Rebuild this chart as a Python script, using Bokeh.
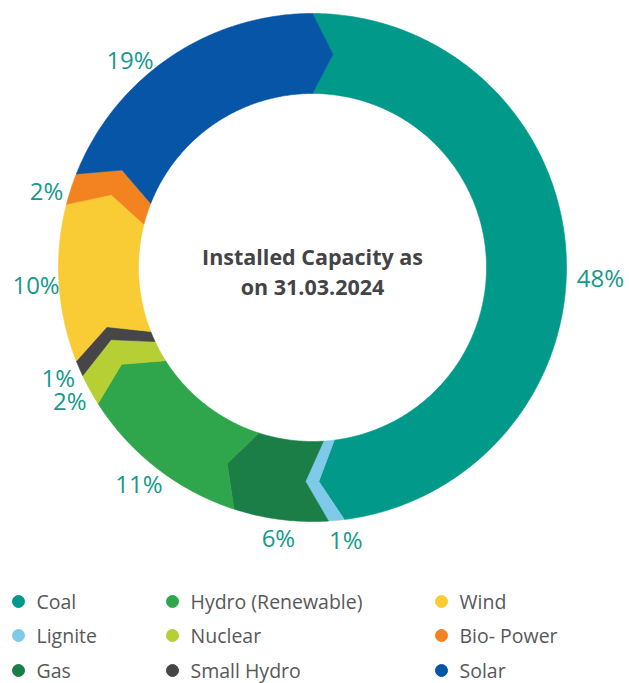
import math
from bokeh.plotting import figure
from bokeh.models import Range1d, ColumnDataSource
from bokeh.core.properties import value
from bokeh.embed import file_html
from bokeh.resources import INLINE

# ---- data ----
categories = ["Coal", "Lignite", "Gas", "Hydro (Renewable)", "Nuclear",
              "Small Hydro", "Wind", "Bio- Power", "Solar"]
shares = [48, 1, 6, 11, 2, 1, 10, 2, 19]
colors = ["#00998a", "#7fc9e9", "#1b7e47", "#2fa64c", "#b5cf34",
          "#464648", "#f9cb34", "#f38221", "#0655a6"]
center_title = ["Installed Capacity as", "on 31.03.2024"]

# ---- layout (screen-pixel coordinates of the window) ----
W, H = 629, 683
CX, CY = 312, 267
R_OUT, R_IN = 254, 174
R_MID = (R_OUT + R_IN) / 2
DELTA = 5.5          # chevron tip offset, degrees (clockwise)
START = 0.0          # start angle, degrees clockwise from 12 o'clock
LABEL_R = 277
# per-label nudges: (angle offset in degrees, radius offset in px)
LABEL_SHIFT = {"Coal": (5.5, 11), "Solar": (-7.0, 0), "Bio- Power": (-1.8, 0),
               "Lignite": (-1.6, -3), "Gas": (0.0, -5),
               "Hydro (Renewable)": (1.0, 0)}
TEAL_TXT = "#15998b"
FONT = "Open Sans"

def pt(a_deg, r):
    a = math.radians(a_deg)
    return CX + r * math.sin(a), CY - r * math.cos(a)

p = figure(width=W, height=H, output_backend="svg", toolbar_location=None,
           x_range=Range1d(0, W), y_range=Range1d(H, 0),
           min_border=0)
p.axis.visible = False
p.grid.visible = False
p.outline_line_color = None
p.background_fill_color = "white"

total = float(sum(shares))
xs, ys = [], []
label_x, label_y, label_t = [], [], []
acc = START
for cat, v in zip(categories, shares):
    s = acc
    e = acc + 360.0 * v / total
    acc = e
    pts = []
    n = max(2, int(math.ceil(e - s)) * 2)
    for i in range(n + 1):
        pts.append(pt(s + (e - s) * i / n, R_OUT))
    pts.append(pt(e + DELTA, R_MID))
    for i in range(n + 1):
        pts.append(pt(e - (e - s) * i / n, R_IN))
    pts.append(pt(s + DELTA, R_MID))
    xs.append([q[0] for q in pts])
    ys.append([q[1] for q in pts])
    da, dr = LABEL_SHIFT.get(cat, (0.0, 0))
    lx, ly = pt((s + e) / 2 + da, LABEL_R + dr)
    label_x.append(lx)
    label_y.append(ly)
    label_t.append(f"{v}%")

src = ColumnDataSource(dict(xs=xs, ys=ys, color=colors, cat=categories))
p.patches("xs", "ys", source=src, fill_color="color", line_color="color",
          line_width=0.6)

p.text(x=label_x, y=label_y, text=label_t, text_font=value(FONT),
       text_font_size="24px", text_color=TEAL_TXT, text_align="center",
       text_baseline="middle")

p.text(x=[CX, CX], y=[256, 286], text=center_title, text_font=value(FONT),
       text_font_size="21.5px", text_font_style="bold", text_color="#444446",
       text_align="center", text_baseline="middle")

# ---- legend (3 columns, column-major like the data order) ----
col_x = [18, 172, 441]
row_y = [601, 635, 670]
lgx, lgy, ltx = [], [], []
for i, cat in enumerate(categories):
    c, r = divmod(i, 3)
    lgx.append(col_x[c])
    lgy.append(row_y[r])
    ltx.append(col_x[c] + 18)
p.scatter(x=lgx, y=lgy, size=12, marker="circle", fill_color=colors,
          line_color=colors)
p.text(x=ltx, y=lgy, text=categories, text_font=value(FONT),
       text_font_size="19.5px", text_color="#58585a", text_align="left",
       text_baseline="middle")

open("out.html", "w").write(file_html(p, INLINE))
